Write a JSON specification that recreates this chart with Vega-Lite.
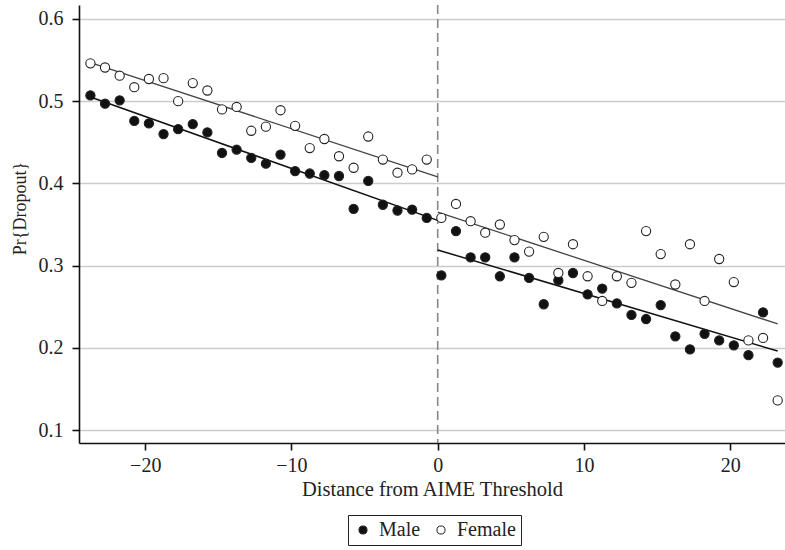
{
  "$schema": "https://vega.github.io/schema/vega-lite/v6.json",
  "autosize": {"type": "none"},
  "width": 706,
  "height": 438,
  "padding": {"left": 79, "top": 5, "right": 0, "bottom": 107},
  "background": "white",
  "config": {
    "view": {"stroke": null},
    "font": "Liberation Serif",
    "axis": {
      "domainColor": "#111", "domainWidth": 1.6,
      "tickColor": "#111", "tickWidth": 1.6, "tickSize": 7,
      "labelFont": "Liberation Serif", "labelFontSize": 20, "labelColor": "#222",
      "titleFont": "Liberation Serif", "titleFontSize": 20.5, "titleFontWeight": "normal", "titleColor": "#222",
      "gridColor": "#cccccc", "gridWidth": 1.5
    }
  },
  "datasets": {
    "pts": [
      {"x": -23.75, "y": 0.507, "sex": "Male"}, {"x": -22.75, "y": 0.497, "sex": "Male"}, {"x": -21.75, "y": 0.501, "sex": "Male"}, {"x": -20.75, "y": 0.476, "sex": "Male"},
      {"x": -19.75, "y": 0.473, "sex": "Male"}, {"x": -18.75, "y": 0.46, "sex": "Male"}, {"x": -17.75, "y": 0.466, "sex": "Male"}, {"x": -16.75, "y": 0.472, "sex": "Male"},
      {"x": -15.75, "y": 0.462, "sex": "Male"}, {"x": -14.75, "y": 0.437, "sex": "Male"}, {"x": -13.75, "y": 0.441, "sex": "Male"}, {"x": -12.75, "y": 0.431, "sex": "Male"},
      {"x": -11.75, "y": 0.424, "sex": "Male"}, {"x": -10.75, "y": 0.435, "sex": "Male"}, {"x": -9.75, "y": 0.415, "sex": "Male"}, {"x": -8.75, "y": 0.412, "sex": "Male"},
      {"x": -7.75, "y": 0.41, "sex": "Male"}, {"x": -6.75, "y": 0.409, "sex": "Male"}, {"x": -5.75, "y": 0.369, "sex": "Male"}, {"x": -4.75, "y": 0.403, "sex": "Male"},
      {"x": -3.75, "y": 0.374, "sex": "Male"}, {"x": -2.75, "y": 0.367, "sex": "Male"}, {"x": -1.75, "y": 0.368, "sex": "Male"}, {"x": -0.75, "y": 0.358, "sex": "Male"},
      {"x": 0.25, "y": 0.288, "sex": "Male"}, {"x": 1.25, "y": 0.342, "sex": "Male"}, {"x": 2.25, "y": 0.31, "sex": "Male"}, {"x": 3.25, "y": 0.31, "sex": "Male"},
      {"x": 4.25, "y": 0.287, "sex": "Male"}, {"x": 5.25, "y": 0.31, "sex": "Male"}, {"x": 6.25, "y": 0.285, "sex": "Male"}, {"x": 7.25, "y": 0.253, "sex": "Male"},
      {"x": 8.25, "y": 0.282, "sex": "Male"}, {"x": 9.25, "y": 0.291, "sex": "Male"}, {"x": 10.25, "y": 0.265, "sex": "Male"}, {"x": 11.25, "y": 0.272, "sex": "Male"},
      {"x": 12.25, "y": 0.254, "sex": "Male"}, {"x": 13.25, "y": 0.24, "sex": "Male"}, {"x": 14.25, "y": 0.235, "sex": "Male"}, {"x": 15.25, "y": 0.252, "sex": "Male"},
      {"x": 16.25, "y": 0.214, "sex": "Male"}, {"x": 17.25, "y": 0.198, "sex": "Male"}, {"x": 18.25, "y": 0.217, "sex": "Male"}, {"x": 19.25, "y": 0.209, "sex": "Male"},
      {"x": 20.25, "y": 0.203, "sex": "Male"}, {"x": 21.25, "y": 0.191, "sex": "Male"}, {"x": 22.25, "y": 0.243, "sex": "Male"}, {"x": 23.25, "y": 0.182, "sex": "Male"},
      {"x": -23.75, "y": 0.546, "sex": "Female"}, {"x": -22.75, "y": 0.541, "sex": "Female"}, {"x": -21.75, "y": 0.531, "sex": "Female"}, {"x": -20.75, "y": 0.517, "sex": "Female"},
      {"x": -19.75, "y": 0.527, "sex": "Female"}, {"x": -18.75, "y": 0.528, "sex": "Female"}, {"x": -17.75, "y": 0.5, "sex": "Female"}, {"x": -16.75, "y": 0.522, "sex": "Female"},
      {"x": -15.75, "y": 0.513, "sex": "Female"}, {"x": -14.75, "y": 0.49, "sex": "Female"}, {"x": -13.75, "y": 0.493, "sex": "Female"}, {"x": -12.75, "y": 0.464, "sex": "Female"},
      {"x": -11.75, "y": 0.469, "sex": "Female"}, {"x": -10.75, "y": 0.489, "sex": "Female"}, {"x": -9.75, "y": 0.47, "sex": "Female"}, {"x": -8.75, "y": 0.443, "sex": "Female"},
      {"x": -7.75, "y": 0.454, "sex": "Female"}, {"x": -6.75, "y": 0.433, "sex": "Female"}, {"x": -5.75, "y": 0.419, "sex": "Female"}, {"x": -4.75, "y": 0.457, "sex": "Female"},
      {"x": -3.75, "y": 0.429, "sex": "Female"}, {"x": -2.75, "y": 0.413, "sex": "Female"}, {"x": -1.75, "y": 0.417, "sex": "Female"}, {"x": -0.75, "y": 0.429, "sex": "Female"},
      {"x": 0.25, "y": 0.358, "sex": "Female"}, {"x": 1.25, "y": 0.375, "sex": "Female"}, {"x": 2.25, "y": 0.354, "sex": "Female"}, {"x": 3.25, "y": 0.34, "sex": "Female"},
      {"x": 4.25, "y": 0.35, "sex": "Female"}, {"x": 5.25, "y": 0.331, "sex": "Female"}, {"x": 6.25, "y": 0.317, "sex": "Female"}, {"x": 7.25, "y": 0.335, "sex": "Female"},
      {"x": 8.25, "y": 0.291, "sex": "Female"}, {"x": 9.25, "y": 0.326, "sex": "Female"}, {"x": 10.25, "y": 0.287, "sex": "Female"}, {"x": 11.25, "y": 0.257, "sex": "Female"},
      {"x": 12.25, "y": 0.287, "sex": "Female"}, {"x": 13.25, "y": 0.279, "sex": "Female"}, {"x": 14.25, "y": 0.342, "sex": "Female"}, {"x": 15.25, "y": 0.314, "sex": "Female"},
      {"x": 16.25, "y": 0.277, "sex": "Female"}, {"x": 17.25, "y": 0.326, "sex": "Female"}, {"x": 18.25, "y": 0.257, "sex": "Female"}, {"x": 19.25, "y": 0.308, "sex": "Female"},
      {"x": 20.25, "y": 0.28, "sex": "Female"}, {"x": 21.25, "y": 0.209, "sex": "Female"}, {"x": 22.25, "y": 0.212, "sex": "Female"}, {"x": 23.25, "y": 0.136, "sex": "Female"}
    ],
    "fit": [
      {"seg": "Male left", "sex": "Male", "x": -23.75, "y": 0.505},
      {"seg": "Male left", "sex": "Male", "x": 0, "y": 0.355},
      {"seg": "Male right", "sex": "Male", "x": 0, "y": 0.319},
      {"seg": "Male right", "sex": "Male", "x": 23.25, "y": 0.196},
      {"seg": "Female left", "sex": "Female", "x": -23.75, "y": 0.547},
      {"seg": "Female left", "sex": "Female", "x": 0, "y": 0.408},
      {"seg": "Female right", "sex": "Female", "x": 0, "y": 0.365},
      {"seg": "Female right", "sex": "Female", "x": 23.25, "y": 0.229}
    ],
    "cut": [{"x": 0}]
  },
  "layer": [
    {
      "data": {"name": "cut"},
      "mark": {"type": "rule", "color": "#888888", "strokeWidth": 1.6, "strokeDash": [9, 5]},
      "encoding": {"x": {"field": "x", "type": "quantitative"}}
    },
    {
      "data": {"name": "fit"},
      "transform": [{"filter": "datum.sex === 'Male'"}],
      "mark": {"type": "line", "strokeWidth": 1.5, "color": "#111111"},
      "encoding": {
        "x": {"field": "x", "type": "quantitative"},
        "y": {"field": "y", "type": "quantitative"},
        "detail": {"field": "seg"}
      }
    },
    {
      "data": {"name": "fit"},
      "transform": [{"filter": "datum.sex === 'Female'"}],
      "mark": {"type": "line", "strokeWidth": 1.3, "color": "#444444"},
      "encoding": {
        "x": {"field": "x", "type": "quantitative"},
        "y": {"field": "y", "type": "quantitative"},
        "detail": {"field": "seg"}
      }
    },
    {
      "data": {"name": "pts"},
      "mark": {"type": "point", "filled": true, "size": 85, "stroke": "#222222", "strokeWidth": 1.1, "opacity": 1},
      "encoding": {
        "x": {
          "field": "x", "type": "quantitative",
          "scale": {"domain": [-24.53, 23.75], "nice": false, "zero": false},
          "axis": {"values": [-20, -10, 0, 10, 20], "grid": false, "title": "Distance from AIME Threshold", "labelPadding": 5, "titlePadding": 4}
        },
        "y": {
          "field": "y", "type": "quantitative",
          "scale": {"domain": [0.0842, 0.617], "nice": false, "zero": false},
          "axis": {"values": [0.1, 0.2, 0.3, 0.4, 0.5, 0.6], "format": ".1f", "grid": true, "title": "Pr{Dropout}", "labelPadding": 9, "titlePadding": 9, "titleFontSize": 18, "titleY": 203}
        },
        "fill": {
          "field": "sex", "type": "nominal",
          "scale": {"domain": ["Male", "Female"], "range": ["#111111", "#ffffff"]},
          "legend": {
            "title": null, "orient": "none", "direction": "horizontal",
            "legendX": 269, "legendY": 510,
            "strokeColor": "#222222", "padding": 5,
            "symbolType": "circle", "symbolSize": 65, "symbolStrokeColor": "#222222", "symbolStrokeWidth": 1,
            "labelFont": "Liberation Serif", "labelFontSize": 20, "labelColor": "#222",
            "columnPadding": 10, "labelOffset": 6
          }
        }
      }
    }
  ]
}
